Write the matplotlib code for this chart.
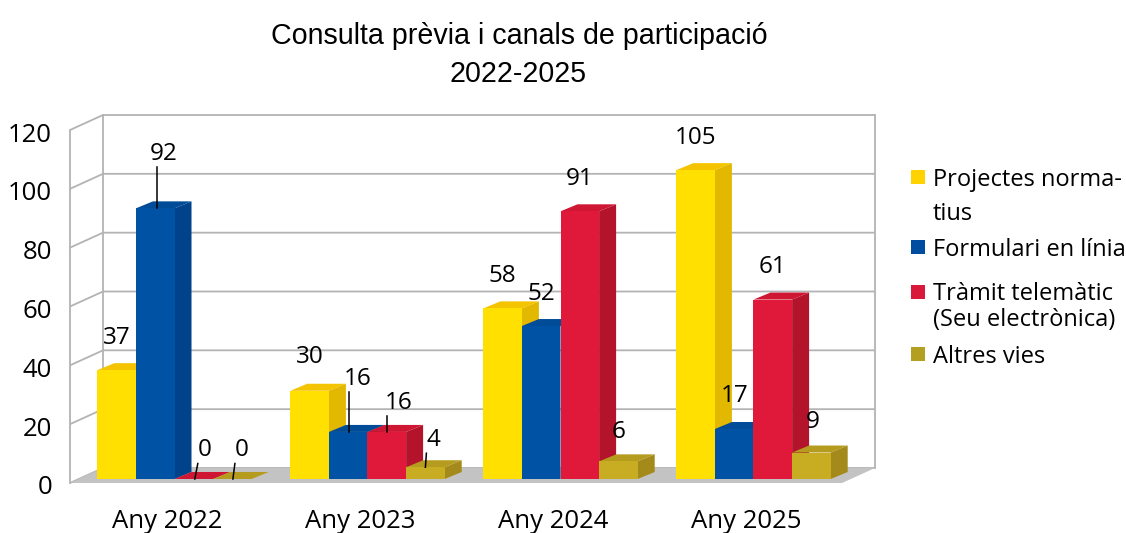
import matplotlib
matplotlib.use("Agg")
import matplotlib.pyplot as plt
from matplotlib.patches import Polygon, Rectangle
from matplotlib import font_manager

# ---------------- data ----------------
categories = ["Any 2022", "Any 2023", "Any 2024", "Any 2025"]
series_names = ["Projectes norma-\ntius", "Formulari en línia",
                "Tràmit telemàtic\n(Seu electrònica)", "Altres vies"]
projectes = [37, 30, 58, 105]
formulari = [92, 16, 52, 17]
tramit = [0, 16, 91, 61]
altres = [0, 4, 6, 9]
yticks = [0, 20, 40, 60, 80, 100, 120]
title_lines = ["Consulta prèvia i canals de participació", "2022-2025"]

series = [projectes, formulari, tramit, altres]

# ---------------- style ----------------
front_c = ["#FFE000", "#0052A5", "#E0183A", "#C8AD22"]
top_c = ["#F5C400", "#004C99", "#CF1632", "#B69C1E"]
side_c = ["#E3B800", "#00438A", "#B3142B", "#A48A1A"]
legend_c = ["#FFD200", "#004C9E", "#D8193A", "#B4A020"]
grid_c = "#B3B3B3"
floor_c = "#C3C3C3"

W, H = 1126, 533
fig = plt.figure(figsize=(W / 100, H / 100), dpi=100)
fig.patch.set_facecolor("white")

names = {f.name for f in font_manager.fontManager.ttflist}
FONT = "Open Sans" if "Open Sans" in names else "DejaVu Sans"
if "Liberation Sans Narrow" in names:
    TFONT, TSIZE = "Liberation Sans Narrow", 24.5
else:
    TFONT, TSIZE = "Liberation Sans", 20.6

# front plane of the plot in pixels
X0, X1, YB, YT = 70, 842, 483, 130
ax = fig.add_axes([X0 / W, (H - YB) / H, (X1 - X0) / W, (YB - YT) / H])
ax.set_xlim(-0.5, 3.5)
ax.set_ylim(0, 120)
ax.axis("off")

PXX = (X1 - X0) / 4.0        # pixels per category unit
PXY = (YB - YT) / 120.0      # pixels per value unit


def P(x, y, ox=0.0, oy=0.0):
    """data point shifted by a pixel offset (oy upward)"""
    return (x + ox / PXX, y + oy / PXY)


WALL = (33, 15)
BOFF = (8, 4)
BD = (17, 7)
xa, xb = -0.5, 3.5

# walls
ax.add_patch(Polygon([P(xa, 0), P(xa, 120), P(xa, 120, *WALL), P(xa, 0, *WALL)],
                     closed=True, facecolor="white", edgecolor="none", clip_on=False, zorder=1))
ax.add_patch(Polygon([P(xa, 0, *WALL), P(xb, 0, *WALL), P(xb, 120, *WALL), P(xa, 120, *WALL)],
                     closed=True, facecolor="white", edgecolor="none", clip_on=False, zorder=1))
for t in yticks:
    pts = [P(xa, t), P(xa, t, *WALL), P(xb, t, *WALL)]
    ax.plot([p[0] for p in pts], [p[1] for p in pts], color=grid_c, lw=1.3,
            clip_on=False, zorder=2, solid_capstyle="butt")
for (x, ox, oy) in [(xa, 0, 0), (xa, WALL[0], WALL[1]), (xb, WALL[0], WALL[1])]:
    p0, p1 = P(x, 0, ox, oy), P(x, 120, ox, oy)
    ax.plot([p0[0], p1[0]], [p0[1], p1[1]], color=grid_c, lw=1.3, clip_on=False, zorder=2)

# floor
ax.add_patch(Polygon([P(xa, 0), P(xb, 0), P(xb, 0, *WALL), P(xa, 0, *WALL)],
                     closed=True, facecolor=floor_c, edgecolor="none", clip_on=False, zorder=3))

# bars
bw = 0.2
for i, vals in enumerate(series):
    lefts = [c - 0.4 + i * bw for c in range(len(categories))]
    z = 10 + i * 3
    ax.bar([l + BOFF[0] / PXX for l in lefts], vals, width=bw, bottom=BOFF[1] / PXY,
           align="edge", color=front_c[i], linewidth=0, zorder=z + 2, clip_on=False)
    for l, v in zip(lefts, vals):
        r = l + bw
        side = [P(r, 0, *BOFF), P(r, v, *BOFF),
                P(r, v, BOFF[0] + BD[0], BOFF[1] + BD[1]),
                P(r, 0, BOFF[0] + BD[0], BOFF[1] + BD[1])]
        top = [P(l, v, *BOFF), P(r, v, *BOFF),
               P(r, v, BOFF[0] + BD[0], BOFF[1] + BD[1]),
               P(l, v, BOFF[0] + BD[0], BOFF[1] + BD[1])]
        ax.add_patch(Polygon(side, closed=True, facecolor=side_c[i], edgecolor="none",
                             clip_on=False, zorder=z + 1))
        ax.add_patch(Polygon(top, closed=True, facecolor=top_c[i], edgecolor="none",
                             clip_on=False, zorder=z))

# data labels: (dx px, label centre px above front top)
label_off = {(1, 0): (8.5, 57), (2, 0): (11, 31.5), (3, 0): (9.5, 31.5),
             (0, 1): (0, 36), (1, 1): (9, 56), (2, 1): (11.5, 31.5), (3, 1): (8.5, 30),
             (3, 2): (0, 32), (3, 3): (1, 33), (1, 3): (0, 36)}
# leaders: (bottom dx, top dx)
leaders = {(1, 0): (1.5, 1.5), (2, 0): (1, 4), (3, 0): (0.5, 2.5),
           (1, 1): (0.5, 0.5), (2, 1): (0.5, 0.5), (3, 1): (0, 1)}
for i, vals in enumerate(series):
    for c, v in enumerate(vals):
        xc = c - 0.4 + i * bw + bw / 2
        dx, dy = label_off.get((i, c), (0, 35))
        tx, ty = P(xc, v, BOFF[0] + dx, BOFF[1] + dy - 8.7)
        ax.text(tx, ty, str(v), ha="center", va="baseline", fontsize=17.5,
                family=FONT, color="black", zorder=40, clip_on=False)
        if (i, c) in leaders:
            bdx, tdx = leaders[(i, c)]
            p0 = P(xc, v, BOFF[0] + bdx, BOFF[1])
            p1 = P(xc, v, BOFF[0] + tdx, BOFF[1] + dy - 16)
            ax.plot([p0[0], p1[0]], [p0[1], p1[1]], color="black", lw=1.1,
                    zorder=41, clip_on=False)

# axis labels
for t in yticks:
    x, y = P(xa, t, -18, -11.5)
    ax.text(x, y, str(t), ha="right", va="baseline", fontsize=18.5, family=FONT,
            clip_on=False)
for c, name in enumerate(categories):
    x, y = P(c, 0, 0.5, -45)
    ax.text(x, y, name, ha="center", va="baseline", fontsize=18.5, family=FONT,
            clip_on=False)

# title
fig.text(519 / W, 1 - 44.5 / H, title_lines[0], ha="center", va="baseline",
         fontsize=TSIZE, family=TFONT)
fig.text(518 / W, 1 - 81.7 / H, title_lines[1], ha="center", va="baseline",
         fontsize=TSIZE, family=TFONT)

# legend
leg_baselines = [[186, 220.5], [256], [300.5, 325.5], [363]]
for i, name in enumerate(series_names):
    lines = name.split("\n")
    b0 = leg_baselines[i][0]
    fig.add_artist(Rectangle((911 / W, 1 - (b0 - 2) / H), 14 / W, 14 / H,
                             transform=fig.transFigure, facecolor=legend_c[i],
                             edgecolor="none"))
    for ln, b in zip(lines, leg_baselines[i]):
        fig.text(933 / W, 1 - b / H, ln, ha="left", va="baseline", fontsize=17,
                 family=FONT)

fig.savefig("out.png", dpi=100, facecolor="white")
